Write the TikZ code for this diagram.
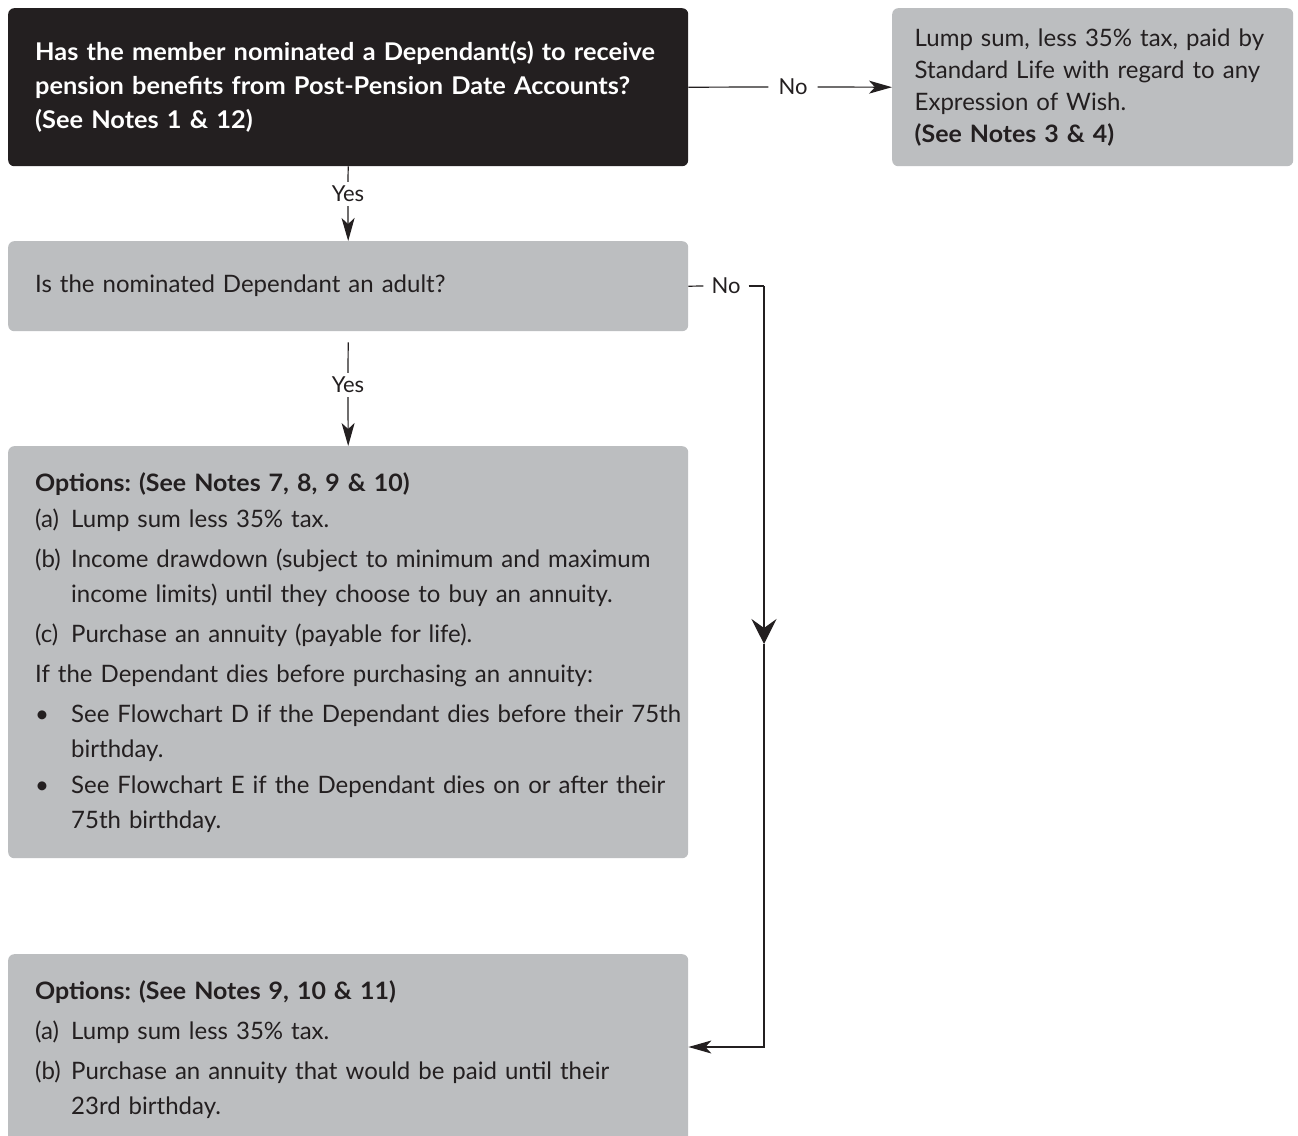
\documentclass[tikz,border=0pt]{standalone}
\usepackage{fontspec}
\setmainfont{Lato}[BoldFeatures={FakeStretch=1.04}]
\usetikzlibrary{arrows.meta}
\definecolor{boxgray}{HTML}{BCBEC0}
\definecolor{ink}{HTML}{231F20}
\newcommand{\itm}[2]{\mbox{\makebox[36pt][l]{#1}#2}}
\newcommand{\cont}[1]{\mbox{\hspace*{36pt}#1}}
\frenchspacing
\begin{document}
\begin{tikzpicture}[x=1pt,y=-1pt,
  every node/.style={text=ink},
  box/.style={rectangle, rounded corners=6pt, fill=boxgray, anchor=north west,
    align=left, inner xsep=27pt, inner ysep=0pt, text width=626pt,
    font=\fontsize{24}{35}\selectfont},
  darkbox/.style={box, fill=ink, text=white, font=\fontsize{24.4}{34}\selectfont\bfseries},
  lbl/.style={font=\fontsize{22}{26}\selectfont, inner xsep=10pt, inner ysep=4pt},
  conn/.style={draw=ink, line width=1.2pt},
  tipS/.style={conn, -{Stealth[length=23pt, width=13pt, inset=6pt]}},
  tipB/.style={conn, -{Stealth[length=25pt, width=25pt, inset=9pt]}}
]
\clip (0,0) rectangle (1298,1135);
\fill[white] (0,0) rectangle (1298,1135);

\node[darkbox, minimum height=158pt] (b1) at (8,8)
  {\mbox{Has the member nominated a Dependant(s) to receive}\\
   \mbox{pension benefits from Post-Pension Date Accounts?}\\
   (See Notes 1 \& 12)};

\node[box, text width=356pt, inner xsep=22.5pt, minimum height=158pt,
      font=\fontsize{24}{32}\selectfont] (b2) at (892,8)
  {\mbox{Lump sum, less 35\% tax, paid by}\\
   \mbox{Standard Life with regard to any}\\
   Expression of Wish.\\
   \textbf{(See Notes 3 \& 4)}};

\node[box, minimum height=90pt] (b3) at (8,241)
  {Is the nominated Dependant an adult?};

\node[box, minimum height=412pt] (b4) at (8,446)
  {\textbf{Options: (See Notes 7, 8, 9 \& 10)}\\[1pt]
   \itm{(a)}{Lump sum less 35\% tax.}\\[5pt]
   \itm{(b)}{Income drawdown (subject to minimum and maximum}\\
   \cont{income limits) until they choose to buy an annuity.}\\[5pt]
   \itm{(c)}{Purchase an annuity (payable for life).}\\[5pt]
   \mbox{If the Dependant dies before purchasing an annuity:}\\[5pt]
   \itm{•}{See Flowchart D if the Dependant dies before their 75th}\\
   \cont{birthday.}\\[1pt]
   \itm{•}{See Flowchart E if the Dependant dies on or after their}\\
   \cont{75th birthday.}};

\node[box, minimum height=190pt] (b5) at (8,954)
  {\textbf{Options: (See Notes 9, 10 \& 11)}\\[5pt]
   \itm{(a)}{Lump sum less 35\% tax.}\\[5pt]
   \itm{(b)}{Purchase an annuity that would be paid until their}\\
   \cont{23rd birthday.}};

% No (top)
\node[lbl] (no1) at (793,87) {No};
\draw[conn] (b1.east) -- (no1.west);
\draw[tipS] (no1.east) -- (b2.west);

% Yes (top)
\node[lbl] (yes1) at (348,194) {Yes};
\draw[conn] (b1.south) -- (yes1.north);
\draw[tipS] (yes1.south) -- (b3.north);

% Yes (middle)
\node[lbl] (yes2) at (348,385) {Yes};
\draw[conn] (b3.south) ++(0,11) coordinate (y2s) -- (yes2.north);
\draw[tipS] (yes2.south) -- (b4.north);

% No (middle) to bottom box
\node[lbl, inner xsep=8pt] (no2) at (726,286) {No};
\draw[conn] (b3.east) -- (no2.west);
\coordinate (c1) at (764,286);
\coordinate (cm) at (764,644);
\coordinate (c2) at (764,1047);
\draw[conn] (no2.east) -- (c1);
\draw[tipB] (c1) -- (cm);
\draw[tipS] (cm) -- (c2) -- (c2 -| b5.east);
\end{tikzpicture}
\end{document}
